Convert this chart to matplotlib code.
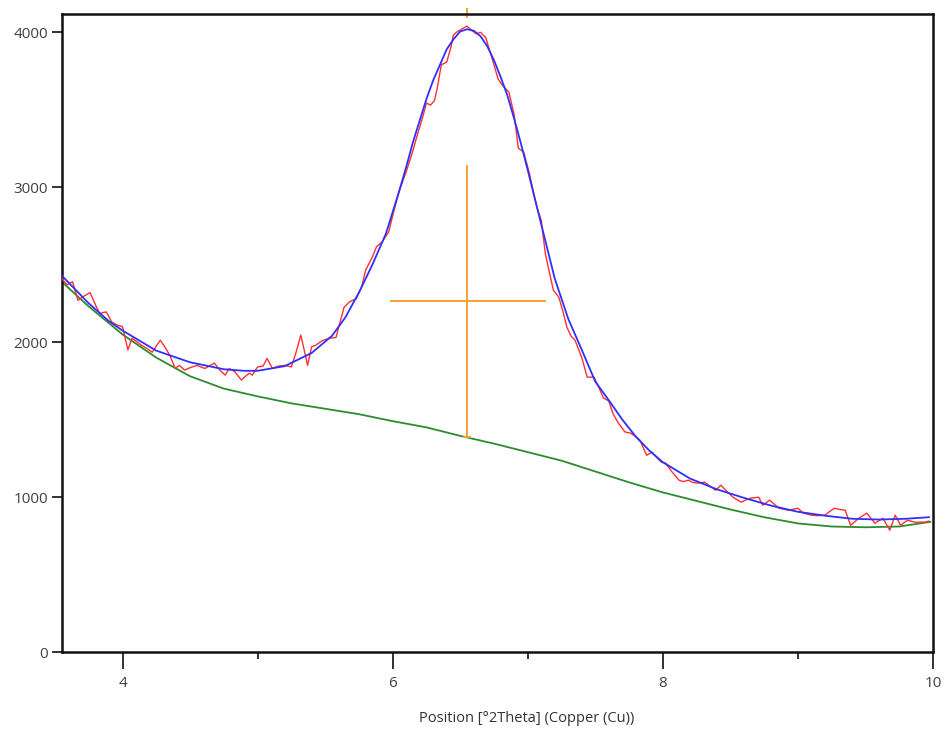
import matplotlib
matplotlib.use("Agg")
import matplotlib.pyplot as plt
from matplotlib.ticker import MultipleLocator

# ---- data ----
meas_x = [3.55, 3.59, 3.63, 3.67, 3.72, 3.76, 3.80, 3.83, 3.88, 3.92, 3.96, 4.00, 4.04, 4.07, 4.11,
          4.14, 4.18, 4.22, 4.25, 4.28, 4.32, 4.35, 4.39, 4.42, 4.46, 4.50, 4.55, 4.58, 4.61, 4.65,
          4.68, 4.72, 4.76, 4.79, 4.83, 4.88, 4.91, 4.94, 4.96, 5.00, 5.04, 5.07, 5.11, 5.15, 5.20,
          5.25, 5.28, 5.32, 5.35, 5.37, 5.40, 5.43, 5.48, 5.53, 5.58, 5.60, 5.64, 5.68, 5.73, 5.77,
          5.80, 5.85, 5.88, 5.92, 5.97, 6.01, 6.05, 6.10, 6.14, 6.18, 6.22, 6.25, 6.28, 6.31, 6.33,
          6.36, 6.40, 6.43, 6.45, 6.48, 6.51, 6.55, 6.58, 6.62, 6.65, 6.69, 6.71, 6.75, 6.78, 6.81,
          6.86, 6.90, 6.93, 6.97, 7.01, 7.05, 7.07, 7.10, 7.13, 7.16, 7.19, 7.23, 7.26, 7.29, 7.32,
          7.35, 7.40, 7.44, 7.49, 7.53, 7.56, 7.60, 7.63, 7.67, 7.72, 7.76, 7.80, 7.83, 7.88, 7.92,
          7.96, 7.99, 8.02, 8.07, 8.12, 8.15, 8.19, 8.22, 8.26, 8.31, 8.35, 8.39, 8.43, 8.47, 8.52,
          8.58, 8.61, 8.65, 8.71, 8.74, 8.79, 8.83, 8.86, 8.93, 9.00, 9.04, 9.10, 9.15, 9.20, 9.24,
          9.27, 9.31, 9.35, 9.39, 9.45, 9.51, 9.57, 9.63, 9.68, 9.72, 9.76, 9.81, 9.87, 9.94, 9.97]
meas_y = [2410, 2370, 2390, 2270, 2300, 2320, 2240, 2185, 2195, 2130, 2110, 2100, 1950, 2025, 2000,
          1980, 1960, 1935, 1975, 2012, 1960, 1915, 1830, 1850, 1820, 1835, 1850, 1840, 1830, 1850,
          1865, 1820, 1787, 1830, 1810, 1755, 1780, 1800, 1787, 1840, 1845, 1895, 1830, 1845, 1850,
          1840, 1920, 2045, 1930, 1850, 1970, 1980, 2010, 2025, 2030, 2095, 2225, 2260, 2280, 2355,
          2465, 2550, 2615, 2645, 2710, 2850, 2980, 3100, 3207, 3330, 3446, 3543, 3530, 3560, 3640,
          3790, 3808, 3900, 3983, 4005, 4020, 4040, 4015, 3990, 4000, 3965, 3905, 3790, 3700, 3660,
          3614, 3466, 3252, 3226, 3097, 2935, 2864, 2786, 2573, 2450, 2335, 2290, 2200, 2096, 2040,
          2012, 1900, 1774, 1774, 1700, 1640, 1620, 1540, 1478, 1420, 1413, 1390, 1368, 1270, 1290,
          1250, 1225, 1219, 1160, 1109, 1100, 1109, 1095, 1090, 1096, 1070, 1044, 1077, 1040, 999,
          967, 980, 993, 999, 947, 980, 950, 928, 915, 928, 896, 883, 880, 883, 910,
          928, 920, 915, 818, 863, 896, 831, 863, 786, 883, 818, 850, 838, 838, 845]

fit_x = [3.55, 3.75, 3.90, 4.00, 4.25, 4.50, 4.75, 4.90, 5.00, 5.20, 5.40, 5.55, 5.65, 5.75, 5.85,
         5.95, 6.05, 6.10, 6.15, 6.25, 6.30, 6.35, 6.40, 6.45, 6.50, 6.55, 6.60, 6.65, 6.70, 6.75,
         6.80, 6.85, 6.90, 6.95, 7.00, 7.10, 7.20, 7.30, 7.40, 7.50, 7.60, 7.70, 7.80, 7.90, 8.00,
         8.20, 8.40, 8.60, 8.80, 9.00, 9.20, 9.40, 9.60, 9.80, 9.97]
fit_y = [2430, 2250, 2135, 2075, 1945, 1870, 1825, 1815, 1815, 1845, 1930, 2040, 2160, 2320, 2500,
         2700, 2980, 3130, 3290, 3570, 3690, 3790, 3890, 3955, 4005, 4020, 4010, 3975, 3910, 3820,
         3710, 3590, 3440, 3280, 3110, 2760, 2410, 2150, 1950, 1745, 1625, 1500, 1390, 1300, 1225,
         1120, 1050, 995, 945, 905, 880, 860, 855, 860, 870]

bg_x = [3.55, 3.75, 4.00, 4.25, 4.50, 4.75, 5.00, 5.25, 5.50, 5.75, 6.00, 6.25, 6.50, 6.75,
        7.00, 7.25, 7.50, 7.75, 8.00, 8.25, 8.50, 8.75, 9.00, 9.25, 9.50, 9.75, 9.98]
bg_y = [2390, 2230, 2050, 1900, 1780, 1700, 1650, 1605, 1570, 1535, 1490, 1450, 1395, 1345,
        1290, 1235, 1165, 1095, 1030, 975, 920, 870, 830, 810, 805, 810, 840]

peak_pos = 6.55
peak_top = 3137
peak_base = 1386
half_level = 2263
half_left = 5.99
half_right = 7.13

xticks = [4, 6, 8, 10]
yticks = [0, 1000, 2000, 3000, 4000]
xlabel = "Position [°2Theta] (Copper (Cu))"

# ---- plot ----
plt.rcParams['font.family'] = ['Open Sans', 'DejaVu Sans']
fig = plt.figure(figsize=(9.47, 7.31), dpi=100)
ax = fig.add_axes([62 / 947, 1 - 652 / 731, (933 - 62) / 947, (652 - 14) / 731])

ax.plot(bg_x, bg_y, color='#2e8b2e', lw=1.3, zorder=2)
ax.plot(meas_x, meas_y, color='#ff3030', lw=1.0, zorder=3)
ax.plot(fit_x, fit_y, color='#2f2fff', lw=1.3, zorder=4)

orange = '#f5a033'
ax.plot([peak_pos, peak_pos], [peak_base, peak_top], color=orange, lw=1.4, zorder=5)
ax.plot([half_left, half_right], [half_level, half_level], color=orange, lw=1.4, zorder=5)
ax.plot([peak_pos - 0.02, peak_pos + 0.02], [peak_base, peak_base], color=orange, lw=1.4, zorder=5)
ax.plot([peak_pos, peak_pos], [4100, 4150], color=orange, lw=1.4, zorder=1, clip_on=False)

ax.set_xlim(3.552, 10.0)
ax.set_ylim(0, 4118)
ax.set_xticks(xticks)
ax.set_xticklabels([str(t) for t in xticks])
ax.xaxis.set_minor_locator(MultipleLocator(1))
ax.set_yticks(yticks)
ax.set_yticklabels([str(t) for t in yticks])

for s in ax.spines.values():
    s.set_linewidth(1.8)
    s.set_color('#111111')

ax.tick_params(axis='x', which='major', length=12, width=1.3, pad=5, labelsize=11,
               labelcolor='#404040', color='#222222')
ax.tick_params(axis='x', which='minor', length=5, width=1.3, color='#222222')
ax.tick_params(axis='y', which='major', length=7, width=1.3, pad=3, labelsize=11,
               labelcolor='#404040', color='#222222')

fig.text(527 / 947, 1 - 718 / 731, xlabel, ha='center', va='center', fontsize=10.5, color='#333333')

fig.savefig('out.png', dpi=100, facecolor='white')
